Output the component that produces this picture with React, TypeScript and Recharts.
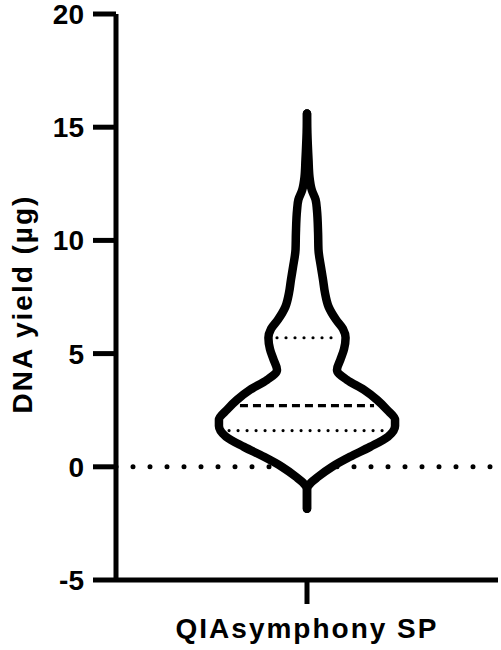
import React from 'react';
import { ComposedChart, Area, Line, XAxis, YAxis, Label } from 'recharts';

const categoryLabel = 'QIAsymphony SP';
const yAxisTitle = 'DNA yield (µg)';
const yTicks = [-5, 0, 5, 10, 15, 20];

// violin outline: yield level and half-width (relative density)
const yieldLevels = [
  -1.85, -1.0, -0.7, -0.44, 0, 0.44, 0.88, 1.33, 1.8, 2.08,
  2.52, 2.96, 3.4, 3.84, 4.28, 4.73, 5.2, 5.7, 6.1, 6.5,
  7.07, 7.69, 8.26, 8.83, 9.6, 10.34, 11.35, 11.8, 12.2, 12.8,
  13.56, 14.75, 15.6,
];
const density = [
  0, 0, 0.021, 0.058, 0.131, 0.225, 0.33, 0.424, 0.461, 0.461,
  0.419, 0.366, 0.298, 0.209, 0.157, 0.175, 0.194, 0.202, 0.188, 0.152,
  0.113, 0.094, 0.084, 0.073, 0.06, 0.058, 0.052, 0.045, 0.026, 0.013,
  0.008, 0.002, 0,
];

const lowerQuartile = 1.6;
const median = 2.7;
const upperQuartile = 5.7;
const lowerQuartileWidth = 0.408;
const medianWidth = 0.351;
const upperQuartileWidth = 0.157;

const zeroLevel = 0;
const xDomain: [number, number] = [-1, 1];

const violinRows = yieldLevels.map((v, i) => ({ yield: v, range: [-density[i], density[i]] }));
const hLine = (level: number, w: number) => [
  { yield: level, x: -w },
  { yield: level, x: w },
];
const zeroRows = hLine(zeroLevel, 1);
const lowerRows = hLine(lowerQuartile, lowerQuartileWidth);
const medianRows = hLine(median, medianWidth);
const upperRows = hLine(upperQuartile, upperQuartileWidth);

const FONT = '"Liberation Sans", Arial, sans-serif';

const renderYTitle = (props: any) => {
  const vb = props && props.viewBox ? props.viewBox : { x: 0, y: 14, width: 116, height: 566 };
  const cx = vb.x + 22.5;
  const cy = vb.y + vb.height / 2 + 7;
  return (
    <text
      x={cx}
      y={cy}
      transform={`rotate(-90 ${cx} ${cy})`}
      textAnchor="middle"
      dominantBaseline="central"
      fontFamily={FONT}
      fontSize={28}
      fontWeight={700}
      letterSpacing={2}
      fill="#000"
    >
      {yAxisTitle}
    </text>
  );
};

export default function App() {
  return (
    <div style={{ position: 'absolute', left: 0, top: 0, fontFamily: FONT, width: 501, height: 650, background: '#fff' }}>
      <ComposedChart
        width={501}
        height={650}
        layout="vertical"
        data={violinRows}
        margin={{ top: 14, right: 3, bottom: 0, left: 0 }}
      >
        <XAxis
          type="number"
          domain={xDomain}
          ticks={[0]}
          interval={0}
          tickFormatter={() => categoryLabel}
          height={70}
          tickSize={24}
          tickMargin={14}
          axisLine={{ stroke: '#000', strokeWidth: 5 }}
          tickLine={{ stroke: '#000', strokeWidth: 5 }}
          tick={{ fill: '#000', fontSize: 28, fontWeight: 700, fontFamily: FONT, letterSpacing: 2 }}
        />
        <YAxis
          type="number"
          dataKey="yield"
          domain={[-5, 20]}
          reversed
          ticks={yTicks}
          interval={0}
          width={116}
          tickSize={23}
          tickMargin={9}
          axisLine={{ stroke: '#000', strokeWidth: 5 }}
          tickLine={{ stroke: '#000', strokeWidth: 5 }}
          tick={{ fill: '#000', fontSize: 28, fontWeight: 700, fontFamily: FONT }}
        >
          <Label content={renderYTitle} />
        </YAxis>
        <Line
          data={zeroRows}
          dataKey="x"
          type="linear"
          stroke="#000"
          strokeWidth={5}
          strokeDasharray="0 17"
          strokeLinecap="round"
          dot={false}
          activeDot={false}
          isAnimationActive={false}
          zIndex={50}
        />
        <Area
          dataKey="range"
          type="monotone"
          stroke="#000"
          strokeWidth={8.5}
          strokeLinecap="round"
          strokeLinejoin="round"
          fill="#fff"
          fillOpacity={1}
          dot={false}
          activeDot={false}
          isAnimationActive={false}
        />
        <Line
          data={lowerRows}
          dataKey="x"
          type="linear"
          stroke="#000"
          strokeWidth={3.2}
          strokeDasharray="0 9"
          strokeLinecap="round"
          dot={false}
          activeDot={false}
          isAnimationActive={false}
        />
        <Line
          data={upperRows}
          dataKey="x"
          type="linear"
          stroke="#000"
          strokeWidth={3.2}
          strokeDasharray="0 9"
          strokeLinecap="round"
          dot={false}
          activeDot={false}
          isAnimationActive={false}
        />
        <Line
          data={medianRows}
          dataKey="x"
          type="linear"
          stroke="#000"
          strokeWidth={3.4}
          strokeDasharray="8 5"
          dot={false}
          activeDot={false}
          isAnimationActive={false}
        />
      </ComposedChart>
    </div>
  );
}
